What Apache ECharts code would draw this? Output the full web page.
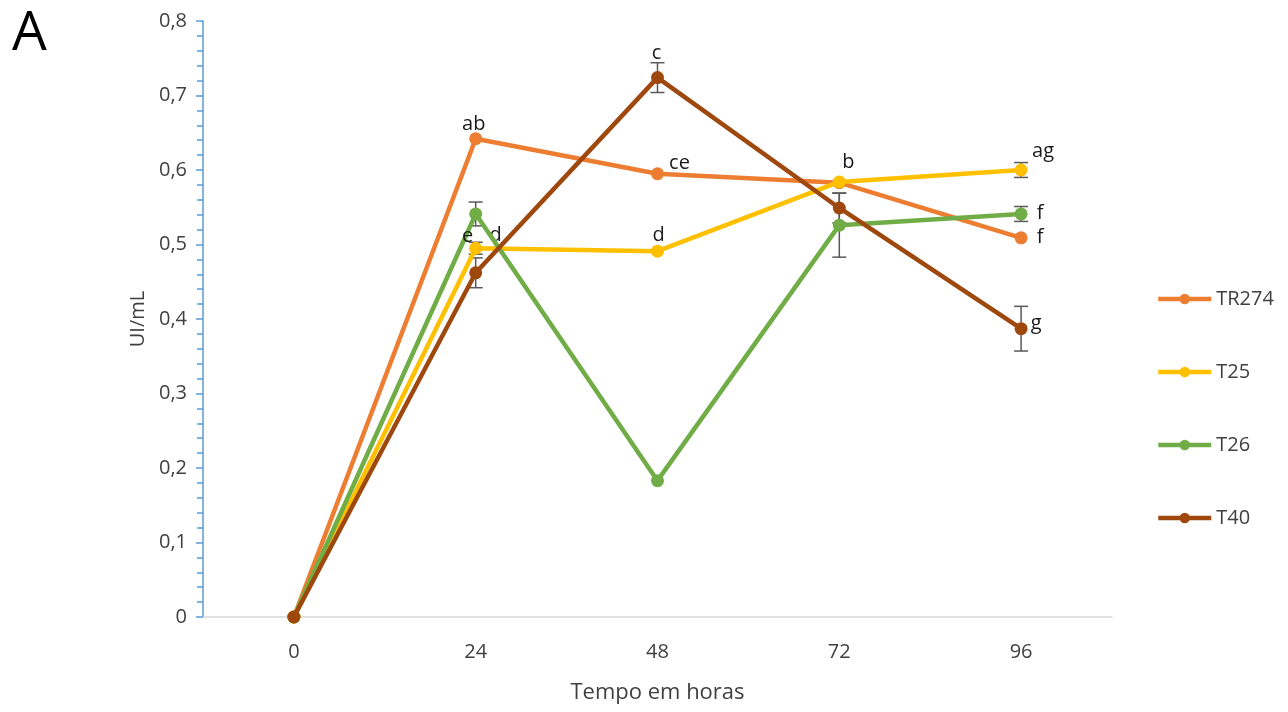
<!DOCTYPE html>
<html><head><meta charset="utf-8">
<script src="https://cdn.jsdelivr.net/npm/echarts@6/dist/echarts.min.js"></script>
<style>html,body{margin:0;padding:0;background:#fff;}#c{width:1288px;height:712px;}</style>
</head><body><div id="c"></div>
<script>
const categories = ['0', '24', '48', '72', '96'];
const seriesNames = ['TR274', 'T25', 'T26', 'T40'];
const valTR274 = [0, 0.642, 0.595, 0.583, 0.509];
const valT25   = [0, 0.495, 0.491, 0.584, 0.600];
const valT26   = [0, 0.541, 0.183, 0.526, 0.541];
const valT40   = [0, 0.462, 0.724, 0.549, 0.387];
const errTR274 = [0, 0, 0, 0, 0];
const errT25   = [0, 0.008, 0, 0, 0.010];
const errT26   = [0, 0.016, 0, 0.043, 0.010];
const errT40   = [0, 0.020, 0.020, 0.020, 0.030];
const letTR274 = ['', 'ab', 'ce', '', 'f'];
const letT25   = ['', 'd', 'd', 'b', 'ag'];
const letT26   = ['', 'e', '', '', 'f'];
const letT40   = ['', '', 'c', '', 'g'];

const values = [valTR274, valT25, valT26, valT40];
const errs = [errTR274, errT25, errT26, errT40];
const letters = [letTR274, letT25, letT26, letT40];
const colors = ['#ED7D31', '#FFC000', '#70AD47', '#9E480E'];
// label offsets (style), per series / point
const offs = [
  [null, [-2, -14], [22, -10], null, [19, 0]],
  [null, [20, -13], [1, -16], [9, -20], [22, -19]],
  [null, [-8, 22], null, null, [19, -1]],
  [null, null, [-1, -24], null, [15, -5]]
];
const font = '"Open Sans", "DejaVu Sans", sans-serif';

const series = [];
values.forEach((vals, si) => {
  const ebData = [];
  vals.forEach((v, i) => { if (errs[si][i] > 0) ebData.push([i, v - errs[si][i], v + errs[si][i]]); });
  series.push({
    type: 'custom', name: seriesNames[si] + '_err', z: 1, silent: true,
    data: ebData,
    renderItem: function (params, api) {
      const lo = api.coord([api.value(0), api.value(1)]);
      const hi = api.coord([api.value(0), api.value(2)]);
      const w = 7;
      const st = { stroke: '#595959', lineWidth: 1.5 };
      return { type: 'group', children: [
        { type: 'line', shape: { x1: lo[0], y1: lo[1], x2: hi[0], y2: hi[1] }, style: st },
        { type: 'line', shape: { x1: lo[0] - w, y1: lo[1], x2: lo[0] + w, y2: lo[1] }, style: st },
        { type: 'line', shape: { x1: hi[0] - w, y1: hi[1], x2: hi[0] + w, y2: hi[1] }, style: st }
      ]};
    }
  });
});
values.forEach((vals, si) => {
  series.push({
    type: 'line', name: seriesNames[si], z: 2 + si,
    symbol: 'circle', symbolSize: 13,
    lineStyle: { width: 4.5, color: colors[si] },
    itemStyle: { color: colors[si] },
    data: vals.map((v, i) => {
      const t = letters[si][i];
      const o = offs[si][i];
      return t ? { value: v, label: { show: true, formatter: t, position: 'inside', offset: o,
        color: '#1a1a1a', fontSize: 20, fontFamily: font } } : { value: v };
    })
  });
});

const chart = echarts.init(document.getElementById('c'), null, { renderer: 'canvas' });
chart.setOption({
  animation: false,
  backgroundColor: '#fff',
  color: colors,
  title: { text: 'A', left: 7, top: 2, textStyle: { fontSize: 55, fontWeight: 'normal', color: '#000', fontFamily: font } },
  grid: { left: 203, right: 176, top: 21, bottom: 95 },
  legend: {
    data: seriesNames, orient: 'vertical', left: 1151, top: 284, itemWidth: 53, itemHeight: 13, itemGap: 53,
    lineStyle: { width: 4.5 },
    textStyle: { fontSize: 20, color: '#404040', fontFamily: font }
  },
  xAxis: {
    type: 'category', data: categories, boundaryGap: true,
    name: 'Tempo em horas', nameLocation: 'middle', nameGap: 65,
    nameTextStyle: { fontSize: 22, color: '#404040', fontFamily: font },
    axisLine: { lineStyle: { color: '#D9D9D9', width: 1.5 } },
    axisTick: { show: false },
    axisLabel: { fontSize: 20, color: '#404040', margin: 25, fontFamily: font }
  },
  yAxis: {
    type: 'value', min: 0, max: 0.8, interval: 0.1,
    name: 'UI/mL', nameLocation: 'middle', nameGap: 52, nameRotate: 90,
    nameTextStyle: { fontSize: 20, color: '#404040', fontFamily: font },
    axisLine: { show: true, lineStyle: { color: '#5B9BD5', width: 1.5 } },
    axisTick: { show: true, length: 7, lineStyle: { color: '#5B9BD5', width: 1.5 } },
    minorTick: { show: true, splitNumber: 5, length: 6, lineStyle: { color: '#5B9BD5', width: 1.5 } },
    splitLine: { show: false },
    axisLabel: { fontSize: 20, color: '#404040', margin: 16, fontFamily: font,
      formatter: v => String(Math.round(v * 10) / 10).replace('.', ',') }
  },
  series: series
});
</script></body></html>
